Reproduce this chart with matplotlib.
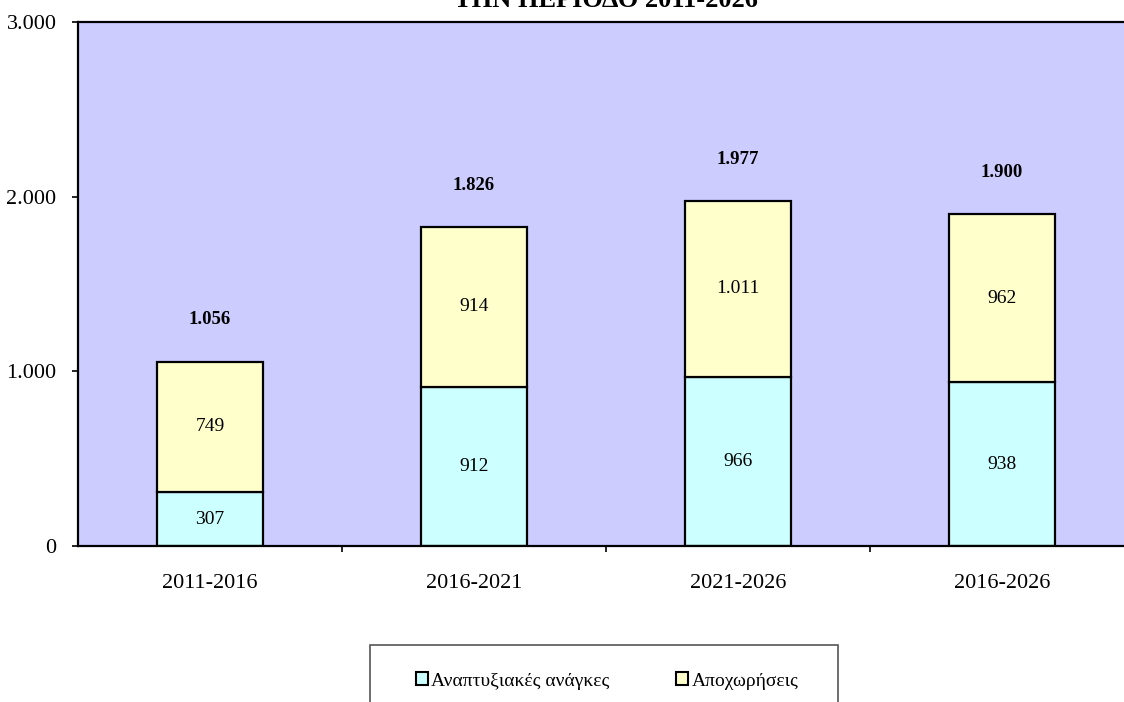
import matplotlib
matplotlib.use('Agg')
import matplotlib.pyplot as plt
from matplotlib.patches import Patch, Rectangle

plt.rcParams['font.family'] = ['Liberation Serif', 'DejaVu Serif']

periods = ['2011-2016', '2016-2021', '2021-2026', '2016-2026']
development = [307, 912, 966, 938]
retirements = [749, 914, 1011, 962]
totals = [1056, 1826, 1977, 1900]
legend_labels = ['Αναπτυξιακές ανάγκες', 'Αποχωρήσεις']
title = 'ΤΗΝ ΠΕΡΙΟΔΟ 2011-2026'


def fmt(v):
    return f"{v:,}".replace(',', '.')


def main():
    fig = plt.figure(figsize=(11.24, 7.02), dpi=100)
    ax = fig.add_axes([78 / 1124, 156 / 702, 1056 / 1124, 524 / 702])
    ax.set_facecolor('#CCCCFF')

    x = [i + 0.5 for i in range(len(periods))]
    w = 0.4
    ax.bar(x, development, width=w, color='#CCFFFF', edgecolor='black', linewidth=1.6)
    ax.bar(x, retirements, width=w, bottom=development, color='#FFFFCC',
           edgecolor='black', linewidth=1.6)

    for xi, d, r, t in zip(x, development, retirements, totals):
        ax.text(xi, d / 2, fmt(d), ha='center', va='center', fontsize=14)
        ax.text(xi, d + r / 2, fmt(r), ha='center', va='center', fontsize=14)
        ax.annotate(fmt(t), (xi, t), xytext=(0, 30), textcoords='offset points',
                    ha='center', va='center', fontsize=13.5, fontweight='bold')

    ax.set_xlim(0, 4)
    ax.set_ylim(0, 3000)
    ax.set_yticks([0, 1000, 2000, 3000])
    ax.set_yticklabels([fmt(v) for v in [0, 1000, 2000, 3000]], fontsize=16)
    ax.set_xticks([1, 2, 3, 4])
    ax.set_xticklabels([])
    ax.set_xticks(x, minor=True)
    ax.set_xticklabels(periods, minor=True, fontsize=16)
    ax.tick_params(axis='x', which='minor', length=0, pad=20)
    ax.tick_params(axis='x', which='major', length=4.5, width=1.2, direction='out')
    ax.tick_params(axis='y', length=4.5, width=1.2, direction='out', pad=11)
    for s in ax.spines.values():
        s.set_linewidth(1.6)
    ax.spines['right'].set_visible(False)

    fig.text(606 / 1124, 1 - 7 / 702, title, ha='center', va='baseline',
             fontsize=19, fontweight='bold')

    # legend frame (bottom cut by the figure edge)
    fig.patches.append(Rectangle((370 / 1124, -0.05), 468 / 1124, 0.05 + 57 / 702,
                                 transform=fig.transFigure, facecolor='white',
                                 edgecolor='#555555', linewidth=1.2))
    handles = [Patch(facecolor='#CCFFFF', edgecolor='black', linewidth=1.5),
               Patch(facecolor='#FFFFCC', edgecolor='black', linewidth=1.5)]
    fig.legend(handles, legend_labels, loc='center', bbox_to_anchor=(607 / 1124, 1 - 681 / 702),
               ncol=2, frameon=False, fontsize=14, handlelength=0.65, handleheight=0.65,
               handletextpad=0.15, columnspacing=3.4)

    fig.savefig('out.png', dpi=100)


if __name__ == "__main__":
    main()
